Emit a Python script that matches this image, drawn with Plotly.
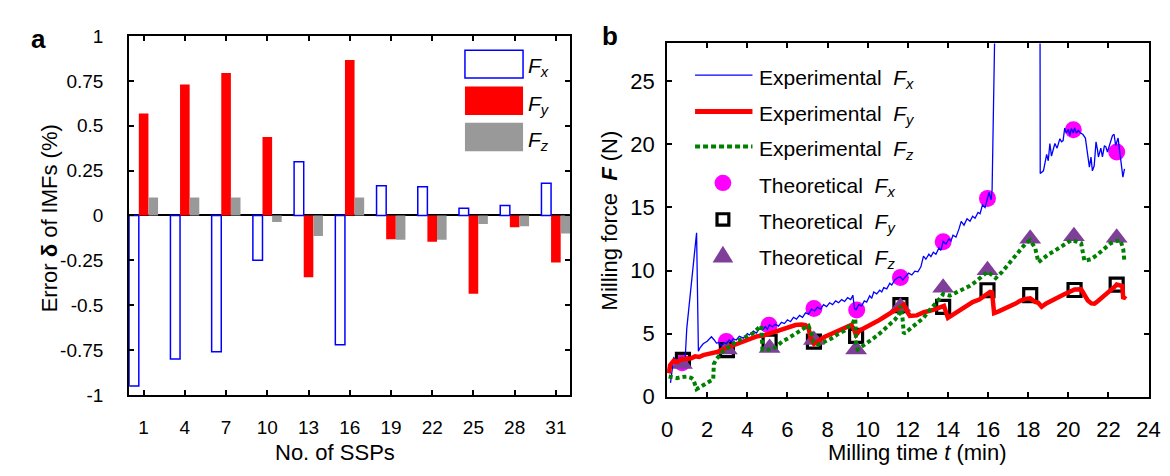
import plotly.graph_objects as go

# ---------------- data: panel a ----------------
ssp = [1, 4, 7, 10, 13, 16, 19, 22, 25, 28, 31]
err_fx = [-0.95, -0.80, -0.76, -0.25, 0.30, -0.72, 0.165, 0.16, 0.04, 0.055, 0.18]
err_fy = [0.568, 0.73, 0.794, 0.437, -0.345, 0.866, -0.133, -0.147, -0.437, -0.065, -0.262]
err_fz = [0.10, 0.10, 0.10, -0.037, -0.115, 0.10, -0.136, -0.136, -0.048, -0.06, -0.10]
a_yticks = [1, 0.75, 0.5, 0.25, 0, -0.25, -0.5, -0.75, -1]
a_yticktext = ["1", "0.75", "0.5", "0.25", "0", "-0.25", "-0.5", "-0.75", "-1"]

# ---------------- data: panel b ----------------
exp_fx_t = [0.17, 0.33, 0.5, 0.66, 0.9, 0.98, 1.47, 1.56, 1.65, 1.8, 2.0, 2.21, 2.35, 2.46, 2.6, 2.7, 2.85, 2.95,
            3.1, 3.2, 3.3, 3.45, 3.6, 3.8, 4.0, 4.1, 4.3, 4.45, 4.6, 4.75, 4.9, 5.0, 5.1, 5.25, 5.4, 5.55, 5.7, 5.85,
            6.0, 6.15, 6.3, 6.45, 6.6, 6.75, 6.9, 7.05, 7.2, 7.35, 7.5, 7.65, 7.8, 7.95, 8.1, 8.25, 8.4, 8.55, 8.7,
            8.85, 9.0, 9.15, 9.26, 9.34, 9.42, 9.55, 9.7, 9.83, 9.95, 10.1, 10.2, 10.3, 10.45, 10.6, 10.7, 10.8,
            10.95, 11.1, 11.2, 11.35, 11.5, 11.63, 11.75, 11.9, 12.04, 12.2, 12.35, 12.5, 12.65, 12.78, 12.9, 13.05,
            13.15, 13.27, 13.4, 13.55, 13.65, 13.76, 13.9, 14.05, 14.15, 14.25, 14.4, 14.55, 14.66, 14.8, 14.95,
            15.1, 15.23, 15.35, 15.5, 15.6, 15.72, 15.85, 15.97, 16.05, 16.15, 16.2, 16.45, 18.58, 18.6, 18.76,
            18.92, 19.0, 19.08, 19.16, 19.33, 19.44, 19.58, 19.66, 19.74, 19.82, 19.9, 20.0, 20.08, 20.15, 20.25,
            20.31, 20.4, 20.5, 20.6, 20.72, 20.85, 20.97, 21.05, 21.13, 21.2, 21.29, 21.38, 21.45, 21.5, 21.62,
            21.7, 21.8, 21.87, 21.95, 22.05, 22.2, 22.28, 22.36, 22.48, 22.6, 22.72, 22.8]
exp_fx_f = [1.1, 3.1, 2.9, 3.1, 3.0, 5.4, 13.0, 3.6, 3.9, 4.2, 4.4, 4.75, 4.5, 4.25, 4.3, 4.05, 4.3, 4.2,
            4.5, 4.35, 4.6, 4.5, 4.8, 4.65, 5.0, 4.9, 5.2, 5.05, 5.4, 5.3, 5.55, 5.35, 5.7, 5.55, 5.75, 5.6, 5.9, 5.8,
            6.1, 5.95, 6.3, 6.15, 6.45, 6.3, 6.65, 6.55, 6.95, 6.8, 7.1, 6.95, 7.3, 7.15, 7.45, 7.3, 7.6, 7.45, 7.7,
            7.55, 7.85, 7.7, 8.05, 7.0, 6.9, 7.3, 7.2, 7.6, 7.5, 8.0, 7.8, 8.3, 8.15, 8.45, 8.3, 8.65,
            8.55, 9.0, 8.85, 9.25, 9.45, 9.5, 9.25, 9.55, 9.8, 9.65, 9.95, 9.9, 10.3, 11.15, 10.9, 11.3,
            11.1, 11.45, 11.3, 11.8, 11.6, 12.3, 12.1, 12.5, 12.35, 12.8, 12.65, 13.3, 13.9, 13.6, 14.1,
            13.9, 14.3, 14.15, 14.6, 14.5, 15.2, 15.0, 15.7, 16.2, 15.6, 16.4, 40.0, 40.0, 17.7, 17.9,
            19.2, 18.7, 20.07, 19.07, 20.07, 19.7, 20.45, 20.2, 20.3, 21.3, 20.9, 21.2, 20.7, 21.25, 20.9,
            21.3, 20.9, 21.1, 20.9, 20.8, 20.5, 18.9, 18.2, 19.0, 17.9, 18.3, 20.2, 19.6, 19.0, 19.7,
            19.0, 19.9, 19.8, 19.4, 19.9, 20.7, 20.8, 19.9, 20.5, 18.9, 17.4, 18.06]

exp_fy_t = [0.08, 0.15, 0.33, 0.5, 0.7, 0.98, 1.2, 1.4, 1.6, 1.8, 2.0, 2.3, 2.5, 2.75, 2.95, 3.2, 3.4, 3.6, 3.9,
            4.26, 4.5, 4.8, 5.08, 5.3, 5.6, 5.9, 6.15, 6.4, 6.7, 6.9, 7.05, 7.17, 7.32, 7.55, 7.86, 8.2, 8.52, 8.85,
            9.17, 9.3, 9.42, 9.6, 9.83, 10.15, 10.49, 10.8, 11.14, 11.4, 11.55, 11.8, 11.96, 12.1, 12.45, 12.8,
            13.27, 13.55, 13.8, 14.0, 14.3, 14.58, 14.9, 15.23, 15.56, 15.9, 16.1, 16.2, 16.3, 16.5, 16.7, 17.0,
            17.37, 17.6, 17.86, 18.1, 18.35, 18.5, 18.67, 18.9, 19.16, 19.5, 19.82, 20.05, 20.31, 20.64, 20.8,
            20.97, 21.15, 21.3, 21.45, 21.62, 21.85, 22.11, 22.3, 22.41, 22.6, 22.69, 22.74, 22.85]
exp_fy_f = [1.86, 2.5, 2.86, 2.75, 2.95, 2.99, 3.05, 3.2, 3.15, 3.3, 3.35, 3.5, 3.55, 3.75, 3.87, 4.0, 4.15, 4.25, 4.45,
            4.62, 4.8, 4.85, 5.0, 5.1, 5.3, 5.43, 5.6, 5.68, 5.72, 5.68, 5.43, 4.62, 4.2, 4.45, 4.75, 5.0, 5.25, 5.45,
            5.68, 5.4, 4.9, 5.25, 5.43, 5.7, 6.0, 6.3, 6.63, 6.9, 7.13, 7.3, 6.76, 6.4, 6.45, 6.7,
            6.88, 7.05, 7.2, 6.25, 6.55, 6.88, 7.2, 7.5, 7.7, 8.14, 8.3, 8.26, 6.63, 6.75, 6.88, 7.1,
            7.38, 7.6, 7.76, 7.8, 7.51, 7.45, 7.13, 7.4, 7.63, 7.9, 8.14, 8.3, 8.5, 8.52, 8.1,
            7.63, 7.4, 7.38, 7.55, 7.76, 8.05, 8.39, 8.7, 8.89, 8.85, 8.77, 7.76, 8.0]

exp_fz_t = [0.08, 0.3, 0.49, 0.7, 0.98, 1.2, 1.31, 1.47, 1.7, 1.97, 2.15, 2.3, 2.33, 2.46, 2.6, 2.79, 3.1, 3.44,
            3.8, 4.26, 4.59, 4.7, 4.75, 5.0, 5.24, 5.5, 5.73, 6.05, 6.39, 6.65, 6.88, 7.05, 7.2, 7.29, 7.54, 7.85,
            8.19, 8.5, 8.85, 9.05, 9.26, 9.38, 9.42, 9.5, 9.65, 9.83, 10.15, 10.49, 10.8, 11.14, 11.35, 11.55,
            11.63, 11.72, 11.8, 12.05, 12.29, 12.55, 12.78, 13.0, 13.27, 13.5, 13.76, 14.09, 14.4, 14.74, 15.1,
            15.4, 15.7, 15.97, 16.2, 16.38, 16.7, 16.95, 17.2, 17.45, 17.69, 17.9, 18.1, 18.35, 18.51, 18.75,
            19.0, 19.35, 19.66, 19.9, 20.15, 20.4, 20.64, 20.8, 21.13, 21.4, 21.62, 21.9, 22.11, 22.4, 22.6,
            22.74, 22.8]
exp_fz_f = [1.6, 1.55, 1.48, 1.55, 1.6, 1.5, 1.36, 0.6, 0.85, 1.1, 1.25, 1.36, 2.6, 3.0, 3.3, 3.6, 3.95, 4.37,
            4.65, 5.0, 5.5, 5.63, 3.74, 3.7, 3.74, 4.05, 4.37, 4.65, 4.95, 5.25, 5.5, 5.63, 5.0, 4.37, 4.12, 4.35,
            4.62, 4.95, 5.25, 5.55, 5.88, 6.2, 4.2, 3.74, 3.9, 4.12, 4.5, 4.87, 5.3, 5.75, 6.1, 6.5,
            7.2, 6.5, 5.0, 5.3, 5.63, 5.95, 6.25, 6.7, 7.13, 7.6, 8.14, 8.01, 8.25, 8.52, 8.8,
            9.14, 9.5, 9.9, 9.65, 9.4, 9.9, 10.4, 10.9, 11.4, 11.9, 12.2, 12.4, 11.78, 10.65, 10.95,
            11.28, 11.6, 11.9, 12.15, 12.41, 12.3, 12.16, 10.78, 10.9, 11.2, 11.53, 11.85, 12.16, 12.35, 12.41,
            11.66, 10.65]

theo_fx_t = [0.75, 2.95, 5.08, 7.32, 9.45, 11.63, 13.76, 15.97, 20.25, 22.41]
theo_fx_f = [2.7, 4.37, 5.67, 7.0, 6.88, 9.45, 12.28, 15.72, 21.15, 19.39]
theo_fy_t = [0.79, 2.98, 5.11, 7.32, 9.42, 11.63, 13.76, 15.97, 18.1, 20.31, 22.41]
theo_fy_f = [2.92, 3.69, 4.37, 4.37, 4.82, 7.26, 7.13, 8.44, 8.06, 8.46, 8.89]
theo_fz_t = [0.74, 2.98, 5.11, 7.32, 9.42, 11.63, 13.76, 15.97, 18.1, 20.28, 22.41]
theo_fz_f = [2.6, 3.74, 3.87, 4.5, 3.74, 7.13, 8.64, 10.02, 12.53, 12.71, 12.61]

b_xticks = list(range(0, 25, 2))
b_yticks = [0, 5, 10, 15, 20, 25]

# ---------------- styling ----------------
W, H = 1170, 476
FONT = "Liberation Sans, Arial, Helvetica, sans-serif"
BLUE = "#0000FF"
RED = "#FF0000"
GRAY = "#999999"
GREEN = "#008000"
MAGENTA = "#FF00FF"
PURPLE = "#7F3F98"


def px(x):
    return x / W


def py(y):
    return 1 - y / H


fig = go.Figure()

# panel a bars
fig.add_trace(go.Bar(x=ssp, y=err_fx, name="Fx", xaxis="x", yaxis="y",
                     marker=dict(color="white", line=dict(color=BLUE, width=1.5)), showlegend=False))
fig.add_trace(go.Bar(x=ssp, y=err_fy, name="Fy", xaxis="x", yaxis="y",
                     marker=dict(color=RED, line=dict(width=0)), showlegend=False))
fig.add_trace(go.Bar(x=ssp, y=err_fz, name="Fz", xaxis="x", yaxis="y",
                     marker=dict(color=GRAY, line=dict(width=0)), showlegend=False))

# panel b markers (drawn under lines)
fig.add_trace(go.Scatter(x=theo_fx_t, y=theo_fx_f, mode="markers", xaxis="x2", yaxis="y2", showlegend=False,
                         marker=dict(symbol="circle", size=17, color=MAGENTA)))
fig.add_trace(go.Scatter(x=theo_fy_t, y=theo_fy_f, mode="markers", xaxis="x2", yaxis="y2", showlegend=False,
                         marker=dict(symbol="square-open", size=13, color="black", line=dict(width=3.2))))
fig.add_trace(go.Scatter(x=theo_fz_t, y=theo_fz_f, mode="markers", xaxis="x2", yaxis="y2", showlegend=False,
                         marker=dict(symbol="triangle-up", size=19, color=PURPLE)))
# panel b lines
fig.add_trace(go.Scatter(x=exp_fx_t, y=exp_fx_f, mode="lines", xaxis="x2", yaxis="y2", showlegend=False,
                         line=dict(color=BLUE, width=1.3)))
fig.add_trace(go.Scatter(x=exp_fy_t, y=exp_fy_f, mode="lines", xaxis="x2", yaxis="y2", showlegend=False,
                         line=dict(color=RED, width=4.5)))
fig.add_trace(go.Scatter(x=exp_fz_t, y=exp_fz_f, mode="lines", xaxis="x2", yaxis="y2", showlegend=False,
                         line=dict(color=GREEN, width=4, dash="4px,3px")))

axis_common = dict(showline=True, linecolor="black", linewidth=2, mirror="ticks", ticks="inside",
                   ticklen=5, tickwidth=1.5, tickcolor="black", showgrid=False, zeroline=False)

fig.update_layout(
    width=W, height=H, margin=dict(l=0, r=0, t=0, b=0), autosize=False,
    paper_bgcolor="white", plot_bgcolor="white",
    font=dict(family=FONT, color="black"),
    barmode="group", bargap=0.3, bargroupgap=0,
    xaxis=dict(domain=[px(117), px(565)], anchor="y", range=[-0.05, 32.05], tickvals=ssp,
               tickfont=dict(size=19), ticklabelstandoff=14, **axis_common),
    yaxis=dict(domain=[py(396), py(19)], anchor="x", range=[-1, 1], tickvals=a_yticks, ticktext=a_yticktext,
               tickfont=dict(size=19), ticklabelstandoff=20, **axis_common),
    xaxis2=dict(domain=[px(663.3), px(1152.3)], anchor="y2", range=[0, 24], tickvals=b_xticks,
                tickfont=dict(size=22), ticklabelstandoff=12, **axis_common),
    yaxis2=dict(domain=[py(398), py(26.7)], anchor="x2", range=[0, 28], tickvals=b_yticks,
                tickfont=dict(size=22), ticklabelstandoff=6, **axis_common),
)
# zero line for panel a
fig.update_yaxes(selector=dict(anchor="x"), zeroline=True, zerolinecolor="black", zerolinewidth=1.5)

shapes = []
ann = []

# panel a legend
for (y0, y1, fill, line) in [(34, 63, "white", BLUE), (72, 102, RED, None), (110, 140, GRAY, None)]:
    shapes.append(dict(type="rect", xref="paper", yref="paper", x0=px(458), x1=px(517), y0=py(y1), y1=py(y0),
                       fillcolor=fill, line=dict(color=line if line else fill, width=1.5 if line else 0)))
for (yc, sub) in [(52, "x"), (91, "y"), (129, "z")]:
    ann.append(dict(text=f"<i>F</i><sub><i>{sub}</i></sub>", x=px(520), y=py(yc), xref="paper", yref="paper",
                    xanchor="left", yanchor="middle", showarrow=False, font=dict(size=21)))

# panel b legend
lx0, lx1, mx = 691.7, 750, 720
rows = [60, 98.3, 135, 173.3, 211.7, 249.3]
shapes.append(dict(type="line", xref="paper", yref="paper", x0=px(lx0), x1=px(lx1), y0=py(rows[0]), y1=py(rows[0]),
                   line=dict(color=BLUE, width=1.3)))
shapes.append(dict(type="line", xref="paper", yref="paper", x0=px(lx0), x1=px(lx1), y0=py(rows[1]), y1=py(rows[1]),
                   line=dict(color=RED, width=5)))
shapes.append(dict(type="line", xref="paper", yref="paper", x0=px(lx0), x1=px(lx1), y0=py(rows[2]), y1=py(rows[2]),
                   line=dict(color=GREEN, width=4, dash="5px,3px")))
shapes.append(dict(type="circle", xref="paper", yref="paper", x0=px(mx - 8.5), x1=px(mx + 8.5),
                   y0=py(rows[3] + 8.5), y1=py(rows[3] - 8.5), fillcolor=MAGENTA, line=dict(width=0)))
shapes.append(dict(type="rect", xref="paper", yref="paper", x0=px(mx - 6), x1=px(mx + 6),
                   y0=py(rows[4] + 6), y1=py(rows[4] - 6), line=dict(color="black", width=3.2)))
tri = (f"M {px(mx - 10.5)} {py(rows[5] + 7.5)} L {px(mx + 10.5)} {py(rows[5] + 7.5)} "
       f"L {px(mx)} {py(rows[5] - 10)} Z")
shapes.append(dict(type="path", xref="paper", yref="paper", path=tri, fillcolor=PURPLE, line=dict(width=0)))

labels = ["Experimental", "Experimental", "Experimental", "Theoretical", "Theoretical", "Theoretical"]
subs = ["x", "y", "z", "x", "y", "z"]
for r, lab, s in zip(rows, labels, subs):
    ann.append(dict(text=f"{lab}  <i>F</i><sub><i>{s}</i></sub>", x=px(755), y=py(r + 4), xref="paper",
                    yref="paper", xanchor="left", yanchor="middle", showarrow=False, font=dict(size=21)))

# titles and panel letters
ann.append(dict(text="No. of SSPs", x=px(326), y=py(457), xref="paper", yref="paper", xanchor="center",
                yanchor="middle", showarrow=False, font=dict(size=22)))
ann.append(dict(text="Error <b>δ</b> of IMFs (%)", x=px(36), y=py(210), xref="paper", yref="paper",
                xanchor="center", yanchor="middle", showarrow=False, textangle=-90, font=dict(size=22)))
ann.append(dict(text="Milling time <i>t</i> (min)", x=px(917), y=py(457), xref="paper", yref="paper",
                xanchor="center", yanchor="middle", showarrow=False, font=dict(size=22)))
ann.append(dict(text="Milling force  <b><i>F</i></b> (N)", x=px(605), y=py(213), xref="paper", yref="paper",
                xanchor="center", yanchor="middle", showarrow=False, textangle=-90, font=dict(size=22)))
ann.append(dict(text="<b>a</b>", x=px(25), y=py(22), xref="paper", yref="paper", xanchor="center",
                yanchor="middle", showarrow=False, font=dict(size=26)))
ann.append(dict(text="<b>b</b>", x=px(605), y=py(19), xref="paper", yref="paper", xanchor="center",
                yanchor="middle", showarrow=False, font=dict(size=26)))

fig.update_layout(shapes=shapes, annotations=ann)
fig.write_html("out.html")
